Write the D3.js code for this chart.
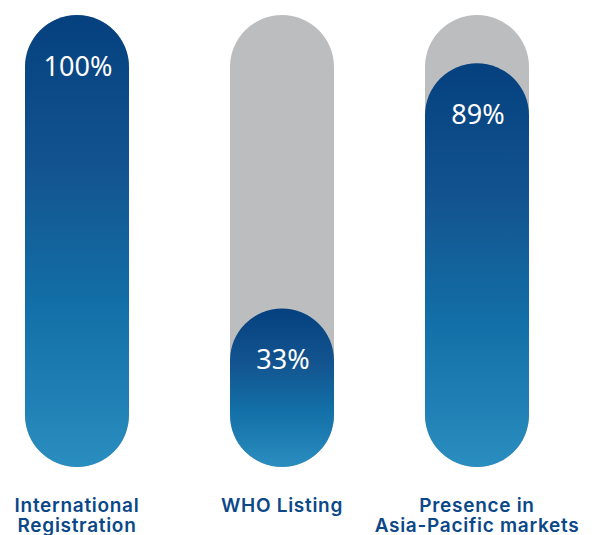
<!DOCTYPE html>
<html>
<head>
<meta charset="utf-8">
<script src="https://cdn.jsdelivr.net/npm/d3@7"></script>
<style>
  body { margin: 0; background: #fff; }
  svg { display: block; }
</style>
</head>
<body>
<svg width="598" height="535"></svg>
<script>
// data
const categories = ["International Registration", "WHO Listing", "Presence in Asia-Pacific markets"]
const labelLines = [["International", "Registration"], ["WHO Listing"], ["Presence in", "Asia-Pacific markets"]]
const values = [100, 33, 89]

const barWidth = 104
const trackBottom = 467

const svg = d3.select("svg")

// bar centres (the original layout is not evenly spaced)
const x = d3.scaleOrdinal()
    .domain(categories)
    .range([77, 282, 477])

// pill height for a value
const h = d3.scaleLinear()
    .domain([0, 100])
    .range([14, 452])

const trackTop = trackBottom - h(100)

// gradient for the blue pills
const grad = svg.append("defs").append("linearGradient")
    .attr("id", "blue")
    .attr("x1", 0).attr("x2", 0)
    .attr("y1", 0).attr("y2", 1)
grad.append("stop").attr("offset", "0%").attr("stop-color", "#05407f")
grad.append("stop").attr("offset", "35%").attr("stop-color", "#135590")
grad.append("stop").attr("offset", "65%").attr("stop-color", "#1370a8")
grad.append("stop").attr("offset", "100%").attr("stop-color", "#2a8dbf")

const g = svg.selectAll(".bar")
    .data(categories)
    .enter().append("g")
    .attr("class", "bar")

// gray track
g.append("rect")
    .attr("x", d => x(d) - barWidth / 2)
    .attr("y", trackTop)
    .attr("width", barWidth)
    .attr("height", trackBottom - trackTop)
    .attr("rx", barWidth / 2)
    .attr("fill", "#bcbdbf")

// blue value pill
g.append("rect")
    .attr("x", d => x(d) - barWidth / 2)
    .attr("y", (d, i) => trackBottom - h(values[i]))
    .attr("width", barWidth)
    .attr("height", (d, i) => h(values[i]))
    .attr("rx", barWidth / 2)
    .attr("fill", "url(#blue)")

// value label
g.append("text")
    .attr("x", d => x(d) + 1)
    .attr("y", (d, i) => trackBottom - h(values[i]) + 61)
    .attr("text-anchor", "middle")
    .attr("fill", "#fff")
    .attr("font-family", "'Noto Sans', sans-serif")
    .attr("font-size", 27)
    .text((d, i) => values[i] + "%")

// category label
const lab = g.append("text")
    .attr("text-anchor", "middle")
    .attr("fill", "#0b4888")
    .attr("font-family", "Inter, sans-serif")
    .attr("font-weight", 600)
    .attr("font-size", 19)
    .attr("letter-spacing", 0.7)

lab.selectAll("tspan")
    .data((d, i) => labelLines[i].map(t => ({t, c: d})))
    .enter().append("tspan")
    .attr("x", d => x(d.c))
    .attr("y", (d, j) => 512 + j * 19.5)
    .text(d => d.t)
</script>
</body>
</html>
